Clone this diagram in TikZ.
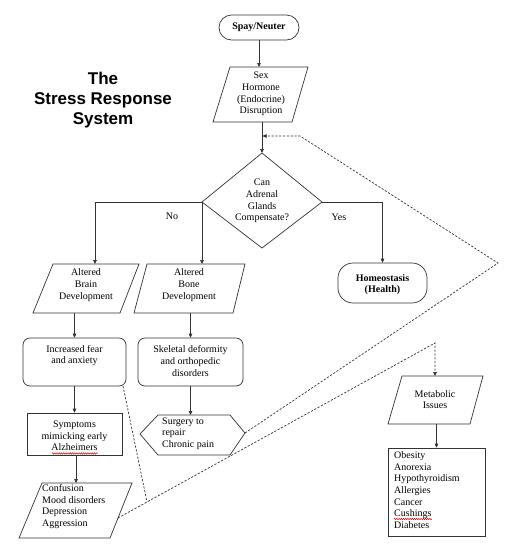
\documentclass[tikz,border=0pt]{standalone}
\usepackage{fontspec}
\setmainfont{Liberation Serif}
\newfontfamily\titlefont{Liberation Sans}
\usetikzlibrary{arrows.meta,decorations.pathmorphing,calc}
\begin{document}
\begin{tikzpicture}[x=1pt,y=-1pt,
  line/.style={draw=black!80, line width=0.7pt},
  arr/.style={line, -{Triangle[length=4pt,width=3.6pt]}},
  dsh/.style={line, dash pattern=on 2.2pt off 1.6pt},
  darr/.style={dsh, -{Triangle[length=4pt,width=3.6pt]}},
  txt/.style={font=\fontsize{10}{11.7}\selectfont, inner sep=0pt, align=center, text=black},
  ltxt/.style={txt, align=left},
  shapebox/.style={line, inner sep=0pt},
  spell/.style={draw=red!85!black, line width=0.45pt, decorate, decoration={snake, amplitude=0.8pt, segment length=2.2pt}}
]
\useasboundingbox[fill=white] (0,0) rectangle (519,550);

% Title
\node[font=\titlefont\bfseries\fontsize{17}{20}\selectfont, align=center, inner sep=0pt] (title) at (103,100) {The\\Stress Response\\System};

% Spay/Neuter
\node[shapebox, rounded corners=12.5pt, minimum width=80pt, minimum height=25pt] (spay) at (259,27.5) {};
\node[txt] (spayT) at (259,27.5) {\textbf{Spay/Neuter}};

% Sex hormone parallelogram
\coordinate (sexTL) at (230,67);
\coordinate (sexTR) at (308,67);
\coordinate (sexBR) at (292,122);
\coordinate (sexBL) at (213,122);
\draw[line] (sexTL) -- (sexTR) -- (sexBR) -- (sexBL) -- cycle;
\node[txt] (sex) at (261,94) {Sex\\Hormone\\(Endocrine)\\Disruption};
\coordinate (sexBot) at (262,122);

% Diamond
\coordinate (dT) at (262,153);
\coordinate (dR) at (322,202);
\coordinate (dB) at (262,248);
\coordinate (dL) at (202,202);
\draw[line] (dT) -- (dR) -- (dB) -- (dL) -- cycle;
\node[txt] (can) at (262,201) {Can\\Adrenal\\Glands\\Compensate?};

% Homeostasis
\node[shapebox, rounded corners=15pt, minimum width=89pt, minimum height=40pt] (homeo) at (382.5,283) {};
\node[txt] (homeoT) at (382.5,284.5) {\textbf{Homeostasis}\\\textbf{(Health)}};

% Altered brain
\coordinate (brTL) at (53,264);
\coordinate (brTR) at (139,264);
\coordinate (brBR) at (120,313);
\coordinate (brBL) at (33,313);
\draw[line] (brTL) -- (brTR) -- (brBR) -- (brBL) -- cycle;
\node[txt] (brain) at (86,285) {Altered\\Brain\\Development};
\coordinate (brainIn) at (95,264);
\coordinate (brainOut) at (74.5,313);

% Altered bone
\coordinate (boTL) at (147,264);
\coordinate (boTR) at (245,264);
\coordinate (boBR) at (233,313);
\coordinate (boBL) at (134,313);
\draw[line] (boTL) -- (boTR) -- (boBR) -- (boBL) -- cycle;
\node[txt] (bone) at (189,285) {Altered\\Bone\\Development};
\coordinate (boneIn) at (202,264);
\coordinate (boneOut) at (190.5,313);

% Increased fear
\node[shapebox, rounded corners=7pt, minimum width=103pt, minimum height=48pt] (fear) at (74.5,362) {};
\node[txt] (fearT) at (74.5,355.5) {Increased fear\\and anxiety};

% Skeletal
\node[shapebox, rounded corners=7pt, minimum width=105pt, minimum height=48pt] (skel) at (190.5,362) {};
\node[txt] (skelT) at (190.5,361) {Skeletal deformity\\and orthopedic\\disorders};

% Symptoms
\node[shapebox, minimum width=95pt, minimum height=42pt] (symp) at (74.5,434) {};
\node[txt] (sympT) at (74.5,436) {Symptoms\\mimicking early\\Alzheimers};
\coordinate (spA) at (52,453.5);
\coordinate (spB) at (98,453.5);
\draw[spell] (spA) -- (spB);

% Confusion parallelogram
\coordinate (cfTL) at (42,483);
\coordinate (cfTR) at (132,483);
\coordinate (cfBR) at (110,538);
\coordinate (cfBL) at (19,538);
\draw[line] (cfTL) -- (cfTR) -- (cfBR) -- (cfBL) -- cycle;
\node[ltxt, anchor=west] (conf) at (42,506.5) {Confusion\\Mood disorders\\Depression\\Aggression};
\coordinate (confR) at (118,518);

% Surgery hexagon
\coordinate (hxL) at (140,434);
\coordinate (hxTL) at (158,415);
\coordinate (hxTR) at (230,415);
\coordinate (hxR) at (245,433);
\coordinate (hxBR) at (230,455);
\coordinate (hxBL) at (158,455);
\draw[line] (hxL) -- (hxTL) -- (hxTR) -- (hxR) -- (hxBR) -- (hxBL) -- cycle;
\node[ltxt, anchor=west] (surg) at (162,433.5) {Surgery to\\repair\\Chronic pain};

% Metabolic parallelogram
\coordinate (mtTL) at (402,376);
\coordinate (mtTR) at (483,376);
\coordinate (mtBR) at (470,424);
\coordinate (mtBL) at (388,424);
\draw[line] (mtTL) -- (mtTR) -- (mtBR) -- (mtBL) -- cycle;
\node[txt] (meta) at (435,399.5) {Metabolic\\Issues};
\coordinate (metaTop) at (435,376);
\coordinate (metaBot) at (436.5,424);

% List box
\node[shapebox, minimum width=97pt, minimum height=88pt] (list) at (436.5,492) {};
\node[ltxt, anchor=west] (listT) at (394,490) {Obesity\\Anorexia\\Hypothyroidism\\Allergies\\Cancer\\Cushings\\Diabetes};
\coordinate (cuA) at (394,519);
\coordinate (cuB) at (432,519);
\draw[spell] (cuA) -- (cuB);

% Solid connectors
\draw[arr] (spay.south) -- (spay.south |- sexTL);
\draw[arr] (sexBot) -- (dT);
\draw[arr] (dL) -| (brainIn);
\draw[arr] (dL) -- (boneIn);
\draw[arr] (dR) -| (homeo.north);
\node[txt] (no) at (172,216) {No};
\node[txt] (yes) at (339,217) {Yes};
\draw[arr] (brainOut) -- (brainOut |- fear.north);
\draw[arr] (boneOut) -- (boneOut |- skel.north);
\draw[arr] (fear.south) -- (symp.north);
\draw[arr] ($(symp.south)+(1.5,0)$) -- ($(symp.south |- cfTL)+(1.5,0)$);
\draw[arr] (skel.south) -- (skel.south |- hxTL);
\draw[arr] (metaBot) -- (metaBot |- list.north);

% Dashed connectors
\coordinate (aR) at (498,263);
\coordinate (aT) at (300,136);
\coordinate (mainHit) at (262.6,136);
\draw[darr] (hxR) -- (aR) -- (aT) -- (mainHit);
\coordinate (bT) at (435,343);
\draw[darr] (confR) -- (bT) -- (metaTop);
\coordinate (fearBR) at (123,386);
\coordinate (joinC) at ($(confR)!0.0915!(bT)$);
\draw[dsh] (fearBR) -- (joinC);
\end{tikzpicture}
\end{document}
